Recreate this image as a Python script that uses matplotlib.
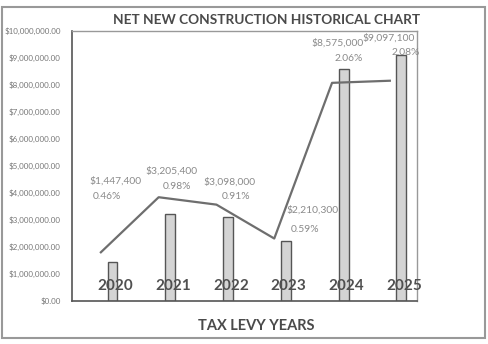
import numpy as np
import matplotlib
matplotlib.use("Agg")
import matplotlib.pyplot as plt
import matplotlib.patches as patches

plt.rcParams['font.family'] = ['Lato', 'DejaVu Sans']

# データ
years = ['2020', '2021', '2022', '2023', '2024', '2025']
amounts = [1447400, 3205400, 3098000, 2210300, 8575000, 9097100]
percents = [0.46, 0.98, 0.91, 0.59, 2.06, 2.08]
y_ticks = [0, 1e6, 2e6, 3e6, 4e6, 5e6, 6e6, 7e6, 8e6, 9e6, 1e7]

# ラベル位置のずれ (x, y) : 金額ラベル / パーセントラベル
amt_offsets = [(0.05, 4.44e6), (0.02, 4.81e6), (0.02, 4.40e6),
               (0.47, 3.36e6), (-0.10, 9.55e6), (-0.22, 9.72e6)]
pct_offsets = [(-0.09, 3.88e6), (0.12, 4.25e6), (0.14, 3.88e6),
               (0.33, 2.65e6), (0.09, 8.98e6), (0.07, 9.20e6)]

fig = plt.figure(figsize=(4.88, 3.44), dpi=100)
ax = fig.add_axes([0.1475, 0.125, 0.707, 0.785])

x = np.arange(len(years))
ax.bar(x, amounts, width=0.17, color='#d4d4d4', edgecolor='#555555', linewidth=1, zorder=2)
ax.set_xlim(-0.7, 5.27)
ax.set_ylim(0, 1e7)
ax.set_yticks(y_ticks)
ax.set_yticklabels([f"${v:,.2f}" for v in y_ticks], fontsize=5.8, color='#777777')
ax.set_xticks([])
ax.tick_params(axis='y', length=0, pad=8)
for side in ['left', 'bottom']:
    ax.spines[side].set_color('#555555')
    ax.spines[side].set_linewidth(1.2)
for side in ['top', 'right']:
    ax.spines[side].set_color('#999999')
    ax.spines[side].set_linewidth(1.0)

# 折れ線（第2軸、パーセント）
ax2 = ax.twinx()
ax2.plot(x - 0.2, percents, color='#6e6e6e', linewidth=1.6, zorder=3)
ax2.set_ylim(0, 2.55)
ax2.set_yticks([])
for s in ax2.spines.values():
    s.set_visible(False)

# データラベル
for i in range(len(years)):
    ax.text(i + amt_offsets[i][0], amt_offsets[i][1], f"${amounts[i]:,}",
            ha='center', va='center', fontsize=7.4, color='#8a8a8a', zorder=4)
    ax.text(i + pct_offsets[i][0], pct_offsets[i][1], f"{percents[i]:.2f}%",
            ha='center', va='center', fontsize=7.4, color='#8a8a8a', zorder=4)
    ax.text(i + 0.05, 0.55e6, years[i], ha='center', va='center',
            fontsize=11, fontweight='bold', color='#505050', zorder=4)

fig.text(0.547, 0.943, "NET NEW CONSTRUCTION HISTORICAL CHART", ha='center', va='center',
         fontsize=9.8, fontweight='bold', color='#4a4a4a')
fig.text(0.525, 0.053, "TAX LEVY YEARS", ha='center', va='center',
         fontsize=10.5, fontweight='bold', color='#4a4a4a')

# 外枠
fig.patches.append(patches.Rectangle((0.005, 0.018), 0.988, 0.962, transform=fig.transFigure,
                                     fill=False, edgecolor='#999999', linewidth=1.5))

fig.savefig('out.png', dpi=100)
